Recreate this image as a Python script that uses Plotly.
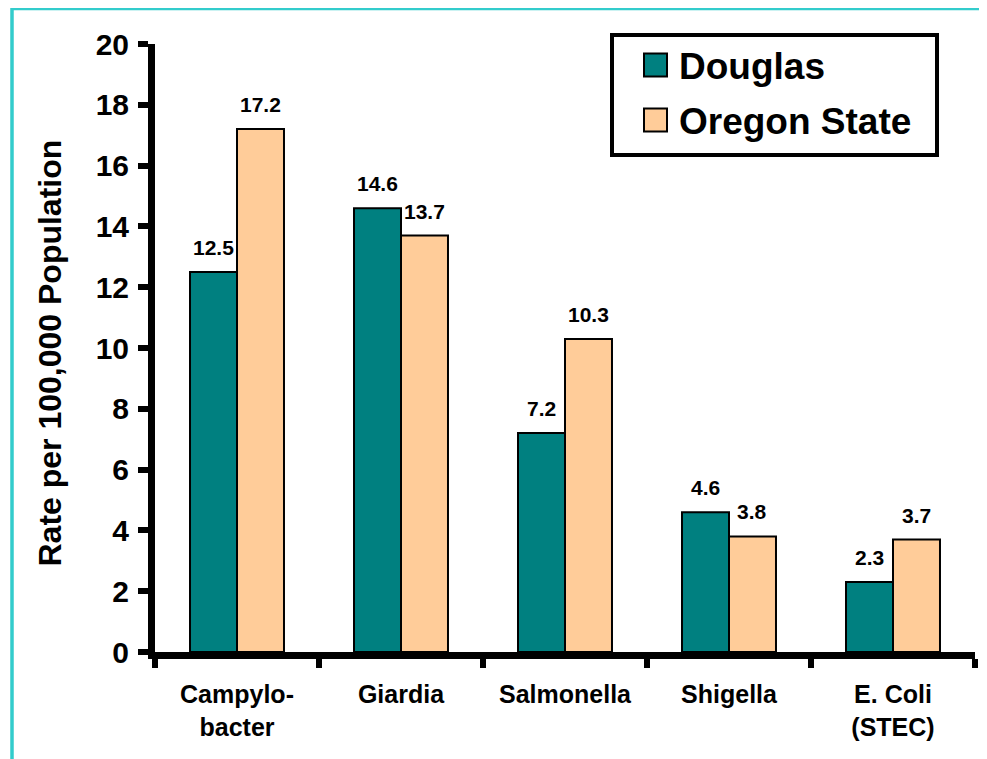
import plotly.graph_objects as go

categories = ["Campylo-<br>bacter", "Giardia", "Salmonella", "Shigella", "E. Coli<br>(STEC)"]
douglas = [12.5, 14.6, 7.2, 4.6, 2.3]
oregon = [17.2, 13.7, 10.3, 3.8, 3.7]
series_names = ["Douglas", "Oregon State"]
y_ticks = [0, 2, 4, 6, 8, 10, 12, 14, 16, 18, 20]
y_title = "Rate per 100,000 Population"

# page has an 8px body margin; figure sized so it fills the window exactly
OFF = 8
W, H = 987 - OFF, 759 - OFF
L, R, T, B = 155 - OFF, 12, 44 - OFF, 107
PW, PH = W - L - R, H - T - B
FONT = "Liberation Sans, Arial, Helvetica, sans-serif"
TEAL = "#008080"
PEACH = "#FFCC99"
BARGAP = 0.427


def px_x(p):
    return (p - OFF - L) / PW


def px_y(p):
    return (H - B - (p - OFF)) / PH


fig = go.Figure()
colors = [TEAL, PEACH]
for name, vals, col in zip(series_names, [douglas, oregon], colors):
    fig.add_trace(go.Bar(
        name=name, x=categories, y=vals,
        marker=dict(color=col, line=dict(color="black", width=2)),
        showlegend=False,
    ))

# data labels
cat_px = PW / len(categories)
half = cat_px * (1 - BARGAP) / 4
annotations = []
for vals, sh in zip([douglas, oregon], [-half, half]):
    for c, v in zip(categories, vals):
        annotations.append(dict(
            x=c, y=v, xref="x", yref="y", text=f"{v:.1f}", showarrow=False,
            xshift=sh, yshift=11, yanchor="bottom", xanchor="center",
            font=dict(family=FONT, size=21, color="black", weight="bold"),
        ))

# y-axis title
annotations.append(dict(
    x=px_x(49), y=px_y(353.5), xref="paper", yref="paper", text=y_title,
    showarrow=False, textangle=-90, xanchor="center", yanchor="middle",
    font=dict(family=FONT, size=32, color="black", weight="bold"),
))

# custom legend
shapes = []
shapes.append(dict(type="rect", xref="paper", yref="paper",
                   x0=px_x(612), x1=px_x(937), y0=px_y(35), y1=px_y(155),
                   line=dict(color="black", width=4), fillcolor="white", layer="above"))
for i, (name, col) in enumerate(zip(series_names, colors)):
    cy = 65 + 55 * i
    shapes.append(dict(type="rect", xref="paper", yref="paper",
                       x0=px_x(644), x1=px_x(667), y0=px_y(cy - 11.5), y1=px_y(cy + 11.5),
                       line=dict(color="black", width=2), fillcolor=col, layer="above"))
    annotations.append(dict(
        x=px_x(677), y=px_y(cy + 1), xref="paper", yref="paper", text=name,
        showarrow=False, xanchor="left", yanchor="middle",
        font=dict(family=FONT, size=37, color="black", weight="bold"),
    ))

# cyan outer border
shapes.append(dict(type="rect", xref="paper", yref="paper",
                   x0=px_x(12), x1=px_x(983.5), y0=px_y(8.5), y1=px_y(800),
                   line=dict(color="#33CCCC", width=3.5), fillcolor="rgba(0,0,0,0)",
                   layer="above"))

fig.update_layout(
    width=W, height=H,
    margin=dict(l=L, r=R, t=T, b=B, autoexpand=False),
    paper_bgcolor="white", plot_bgcolor="white",
    barmode="group", bargap=BARGAP, bargroupgap=0,
    font=dict(family=FONT, color="black"),
    annotations=annotations, shapes=shapes,
    showlegend=False,
)
fig.update_xaxes(
    showline=True, linecolor="black", linewidth=7,
    ticks="outside", tickson="boundaries", ticklen=9, tickwidth=6, tickcolor="black",
    tickfont=dict(family=FONT, size=25, color="black", weight="bold"),
    ticklabelstandoff=14,
    showgrid=False, zeroline=False, range=[-0.5, 4.5],
)
fig.update_yaxes(
    range=[0, 20], tickvals=y_ticks,
    showline=True, linecolor="black", linewidth=7,
    ticks="outside", ticklen=10, tickwidth=6, tickcolor="black",
    tickfont=dict(family=FONT, size=30, color="black", weight="bold"),
    ticklabelstandoff=3,
    showgrid=False, zeroline=False,
)

fig.write_html("out.html")
